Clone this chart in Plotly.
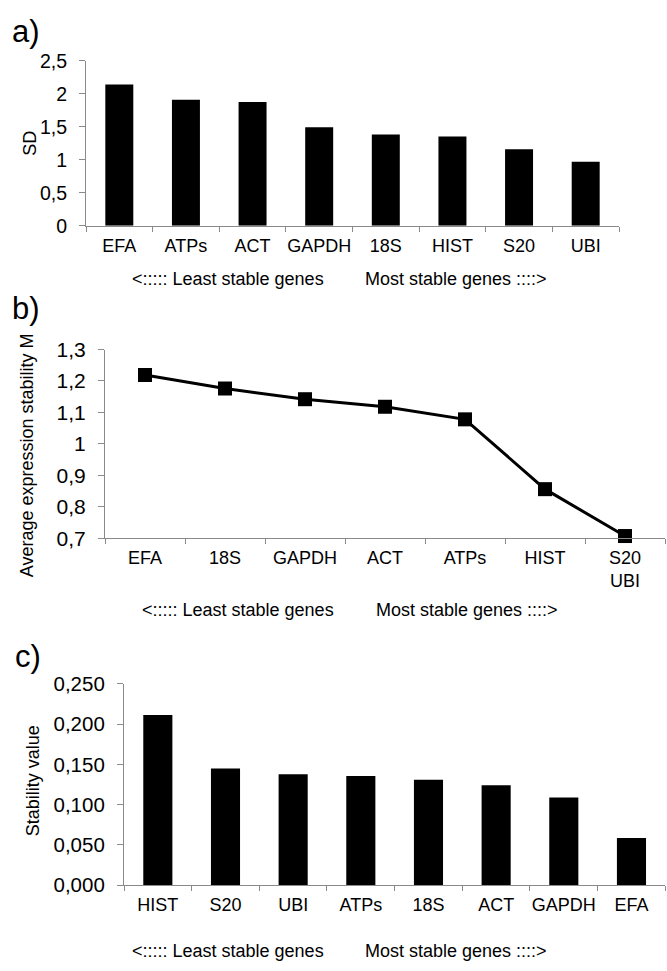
import plotly.graph_objects as go

W, H = 667, 971

# ---- data ----
genes_a = ["EFA", "ATPs", "ACT", "GAPDH", "18S", "HIST", "S20", "UBI"]
sd_a = [2.14, 1.91, 1.875, 1.495, 1.385, 1.355, 1.16, 0.97]

genes_b = ["EFA", "18S", "GAPDH", "ACT", "ATPs", "HIST", "S20<br>UBI"]
m_b = [1.219, 1.176, 1.142, 1.118, 1.078, 0.856, 0.707]

genes_c = ["HIST", "S20", "UBI", "ATPs", "18S", "ACT", "GAPDH", "EFA"]
stab_c = [0.2115, 0.145, 0.1377, 0.1357, 0.1309, 0.1242, 0.1088, 0.0587]

yticks_a = [0, 0.5, 1, 1.5, 2, 2.5]
yticks_b = [0.7, 0.8, 0.9, 1.0, 1.1, 1.2, 1.3]
yticks_c = [0, 0.05, 0.10, 0.15, 0.20, 0.25]

FONT = "Liberation Sans, Arial, sans-serif"
AXC = "#8a8a8a"

def px(x):
    return x / W

def py(y):
    return 1 - y / H

fig = go.Figure()

fig.add_trace(go.Bar(x=genes_a, y=sd_a, marker=dict(color="black", line=dict(width=0)),
                     width=0.42, xaxis="x", yaxis="y", showlegend=False))
fig.add_trace(go.Scatter(x=genes_b, y=m_b, mode="lines+markers",
                         line=dict(color="black", width=3),
                         marker=dict(symbol="square", size=14, color="black"),
                         cliponaxis=False, xaxis="x2", yaxis="y2", showlegend=False))
fig.add_trace(go.Bar(x=genes_c, y=stab_c, marker=dict(color="black", line=dict(width=0)),
                     width=0.43, xaxis="x3", yaxis="y3", showlegend=False))

def xax(domain, anchor, n):
    return dict(domain=domain, anchor=anchor, type="category", range=[-0.5, n - 0.5],
                showline=True, linecolor=AXC, linewidth=1.2, ticks="outside",
                tickson="boundaries", ticklen=5, tickcolor=AXC, tickwidth=1.2,
                showgrid=False, zeroline=False, ticklabelstandoff=3, tickangle=0,
                tickfont=dict(family=FONT, size=18, color="black"))

def yax(domain, anchor, rng, vals, fmt, size):
    return dict(domain=domain, anchor=anchor, range=rng, tickvals=vals, tickformat=fmt,
                showline=True, linecolor=AXC, linewidth=1.2, ticks="outside",
                ticklen=6, tickcolor=AXC, tickwidth=1.2, showgrid=False, zeroline=False,
                ticklabelstandoff=8,
                tickfont=dict(family=FONT, size=size, color="black"))

fig.update_layout(
    width=W, height=H, margin=dict(l=0, r=0, t=0, b=0),
    paper_bgcolor="white", plot_bgcolor="white",
    separators=",.",
    font=dict(family=FONT, color="black"),
    xaxis=xax([px(86), px(619)], "y", len(genes_a)),
    yaxis=yax([py(219), py(50)], "x", [0, 2.5], yticks_a, "", 19.5),
    xaxis2=xax([px(105), px(665)], "y2", len(genes_b)),
    yaxis2=yax([py(539), py(345.7)], "x2", [0.7, 1.3], yticks_b, "", 21),
    xaxis3=xax([px(124), px(665.3)], "y3", len(genes_c)),
    yaxis3=yax([py(894.3), py(688.3)], "x3", [0, 0.25], yticks_c, ".3f", 20.5),
)

ann = []
def add_text(text, x, y, size, xanchor="left", angle=0):
    ann.append(dict(text=text, x=px(x), y=py(y), xref="paper", yref="paper",
                    xanchor=xanchor, yanchor="middle", showarrow=False, textangle=angle,
                    font=dict(family=FONT, size=size, color="black")))

# panel letters
add_text("a)", 10, 20, 31)
add_text("b)", 10, 304, 31)
add_text("c)", 13, 660, 31)

# axis titles
add_text("SD", 30, 135, 18, "center", -90)
add_text("Average expression stability M", 27, 454, 18, "center", -90)
add_text("Stability value", 33, 788, 18, "center", -90)

# direction captions
for (yl, xl, xr) in [(273, 130, 363), (612, 140, 374), (962, 130, 363)]:
    add_text("&lt;::::: Least stable genes", xl, yl, 18)
    add_text("Most stable genes ::::&gt;", xr, yl, 18)

fig.update_layout(annotations=ann)
fig.write_html("out.html", config={"displayModeBar": False},
               post_script="document.body.style.margin='0';document.body.style.overflow='hidden';")
